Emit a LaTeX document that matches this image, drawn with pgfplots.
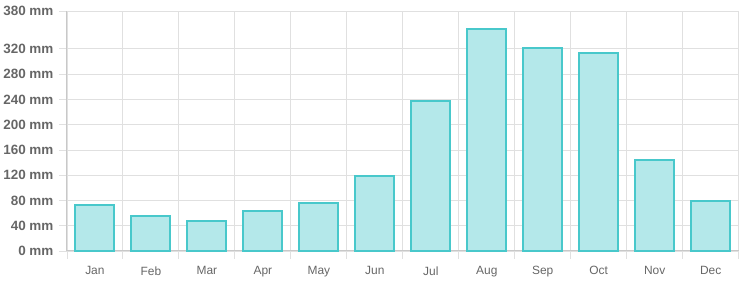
\documentclass[border=0pt]{standalone}
\usepackage{pgfplots}
\pgfplotsset{compat=1.18}
\usepackage{fontspec}
\setmainfont{Liberation Sans}
\definecolor{barfill}{RGB}{180,232,234}
\definecolor{barline}{RGB}{72,200,203}
\definecolor{gridc}{RGB}{224,224,224}
\definecolor{axisc}{RGB}{200,200,200}
\definecolor{labc}{RGB}{102,102,102}
\begin{document}
\begin{tikzpicture}
\begin{axis}[
  at={(0,0)}, anchor=south west,
  scale only axis, width=672bp, height=240bp,
  xmin=-0.5, xmax=11.5, ymin=0, ymax=380,
  axis x line*=bottom, axis y line*=left,
  axis line style={draw=axisc, line width=1bp},
  xtick={0,...,11},
  xticklabels={Jan,Feb,Mar,Apr,May,Jun,Jul,Aug,Sep,Oct,Nov,Dec},
  major x tick style={draw=none},
  minor xtick={-0.5,0.5,...,11.5},
  xminorgrids,
  minor x grid style={draw=gridc, line width=0.8bp},
  minor x tick style={draw=gridc, line width=0.8bp},
  tick align=outside,
  major tick length=8bp, minor tick length=8bp,
  ytick={0,40,...,320,380},
  ymajorgrids,
  major y grid style={draw=gridc, line width=0.8bp},
  major y tick style={draw=gridc, line width=0.8bp},
  /pgf/number format/assume math mode=true,
  yticklabel={\pgfmathprintnumber{\tick} mm},
  yticklabel style={font=\bfseries\fontsize{13.5}{15}\selectfont, text=labc, xshift=-2bp},
  xticklabel style={font=\fontsize{12}{14}\selectfont, text=labc, yshift=-4bp},
  clip=false,
]
\addplot[ybar, bar width=0.7, fill=barfill, draw=barline, line width=2bp]
  coordinates {(0,73) (1,55) (2,48) (3,64) (4,76) (5,119) (6,238) (7,352) (8,322) (9,314) (10,144) (11,79)};
\end{axis}
\path[use as bounding box] (-66.7bp,-29bp) rectangle (673.3bp,251bp);
\end{tikzpicture}
\end{document}
